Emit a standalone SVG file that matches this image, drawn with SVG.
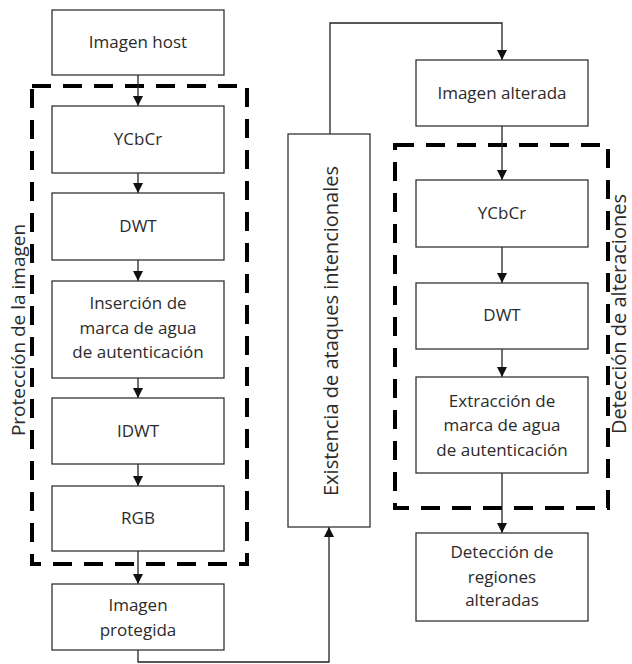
<svg xmlns="http://www.w3.org/2000/svg" width="632" height="664" viewBox="0 0 632 664">
  <defs>
    <marker id="arrow" viewBox="0 0 10 10" refX="10" refY="5" markerWidth="10" markerHeight="10" markerUnits="userSpaceOnUse" orient="auto">
      <path d="M0,0 L10,5 L0,10 Z" fill="#111"/>
    </marker>
    <style>
      .box { fill: #fff; stroke: #333; stroke-width: 1.3; }
      .group { fill: none; stroke: #000; stroke-width: 4; stroke-dasharray: 19 12; }
      .edge { fill: none; stroke: #222; stroke-width: 1.3; marker-end: url(#arrow); }
      text { font-family: "Open Sans", "Liberation Sans", sans-serif; font-size: 17px; fill: #2b2b2b; text-anchor: middle; }
      .vlabel { font-size: 20px; }
    </style>
  </defs>
  <rect width="632" height="664" fill="#fff"/>

  <!-- dashed grouping frames -->
  <g id="group-proteccion">
    <rect class="group" x="32" y="86" width="215" height="478"/>
    <text class="vlabel" style="font-size:19px" transform="translate(25,330) rotate(-90)">Protección de la imagen</text>
  </g>
  <g id="group-deteccion">
    <rect class="group" x="395" y="145" width="213" height="363"/>
    <text class="vlabel" transform="translate(626,314) rotate(-90)">Detección de alteraciones</text>
  </g>

  <!-- connectors -->
  <g id="connectors">
    <path class="edge" d="M138,75 V106"/>
    <path class="edge" d="M138,173 V193"/>
    <path class="edge" d="M138,260 V281"/>
    <path class="edge" d="M138,378 V398"/>
    <path class="edge" d="M138,464 V486"/>
    <path class="edge" d="M138,551 V584"/>
    <path class="edge" d="M138,650 V662 H329 V527"/>
    <path class="edge" d="M330,134 V23 H502 V60"/>
    <path class="edge" d="M502,126 V180"/>
    <path class="edge" d="M502,247 V283"/>
    <path class="edge" d="M502,349 V377"/>
    <path class="edge" d="M502,473 V533"/>
  </g>

  <!-- left column -->
  <g id="imagen-host">
    <rect class="box" x="52" y="10" width="172" height="65"/>
    <text x="138" y="48">Imagen host</text>
  </g>
  <g id="ycbcr-1">
    <rect class="box" x="52" y="106" width="172" height="67"/>
    <text x="138" y="145">YCbCr</text>
  </g>
  <g id="dwt-1">
    <rect class="box" x="52" y="193" width="172" height="67"/>
    <text x="138" y="232">DWT</text>
  </g>
  <g id="insercion">
    <rect class="box" x="52" y="281" width="172" height="97"/>
    <text x="138" y="309">Inserción de</text>
    <text x="138" y="334">marca de agua</text>
    <text x="138" y="358">de autenticación</text>
  </g>
  <g id="idwt">
    <rect class="box" x="52" y="398" width="172" height="66"/>
    <text x="138" y="437">IDWT</text>
  </g>
  <g id="rgb">
    <rect class="box" x="52" y="486" width="172" height="65"/>
    <text x="138" y="524">RGB</text>
  </g>
  <g id="imagen-protegida">
    <rect class="box" x="52" y="584" width="172" height="66"/>
    <text x="138" y="611">Imagen</text>
    <text x="138" y="636">protegida</text>
  </g>

  <!-- middle column -->
  <g id="existencia-ataques">
    <rect class="box" x="288" y="134" width="82" height="393"/>
    <text class="vlabel" transform="translate(337.5,331) rotate(-90)">Existencia de ataques intencionales</text>
  </g>

  <!-- right column -->
  <g id="imagen-alterada">
    <rect class="box" x="416" y="60" width="172" height="66"/>
    <text x="502" y="99">Imagen alterada</text>
  </g>
  <g id="ycbcr-2">
    <rect class="box" x="416" y="180" width="172" height="67"/>
    <text x="502" y="219">YCbCr</text>
  </g>
  <g id="dwt-2">
    <rect class="box" x="416" y="283" width="172" height="66"/>
    <text x="502" y="321">DWT</text>
  </g>
  <g id="extraccion">
    <rect class="box" x="416" y="377" width="172" height="96"/>
    <text x="502" y="407">Extracción de</text>
    <text x="502" y="431">marca de agua</text>
    <text x="502" y="456">de autenticación</text>
  </g>
  <g id="deteccion-regiones">
    <rect class="box" x="416" y="533" width="172" height="88"/>
    <text x="502" y="558">Detección de</text>
    <text x="502" y="583">regiones</text>
    <text x="502" y="606">alteradas</text>
  </g>
</svg>
